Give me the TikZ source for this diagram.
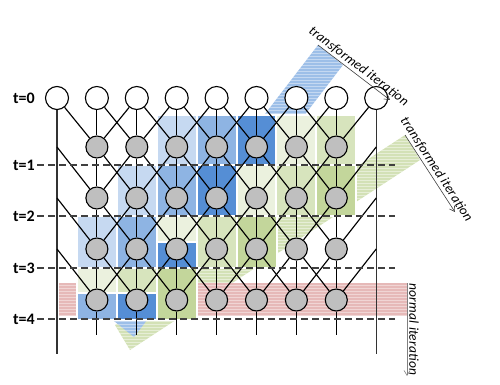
\documentclass[tikz,border=0pt]{standalone}
\usepackage{fontspec}
\setmainfont{Carlito}
\usetikzlibrary{arrows.meta}
\definecolor{lb}{HTML}{C6D9F1}
\definecolor{mb}{HTML}{8EB4E3}
\definecolor{db}{HTML}{558ED5}
\definecolor{lg}{HTML}{EBF1DE}
\definecolor{mg}{HTML}{D7E4BD}
\definecolor{dg}{HTML}{C3D69B}
\definecolor{pk}{HTML}{E6B9B8}
\definecolor{bandb}{HTML}{9DBFE8}
\definecolor{bandg}{HTML}{D3E1B6}
\definecolor{nodegray}{HTML}{BFBFBF}
\definecolor{dashgray}{HTML}{404040}
\pgfdeclarelayer{bands}
\pgfdeclarelayer{edges}
\pgfsetlayers{bands,edges,main}
\begin{document}
\begin{tikzpicture}[x=1pt,y=-1pt,
  wnode/.style={circle,draw=black,fill=white,line width=1.1pt,minimum size=23pt,inner sep=0pt},
  gnode/.style={circle,draw=black,fill=nodegray,line width=1.1pt,minimum size=22pt,inner sep=0pt},
  net/.style={black,line width=1.15pt},
  bline/.style={black!80,line width=1.4pt},
  dline/.style={dashgray,line width=1.4pt,dash pattern=on 7pt off 4pt},
  tile/.style={draw=white,line width=2pt},
  tlabel/.style={font=\fontsize{16}{18}\selectfont\bfseries,anchor=east,inner sep=1pt},
  itlabel/.style={font=\fontsize{13.5}{15}\selectfont\itshape\addfontfeatures{LetterSpace=1.5},sloped,above,inner sep=2pt},
  arr/.style={line width=0.6pt,-{Straight Barb[length=5pt,width=6pt]}},
]
\useasboundingbox (0,0) rectangle (500,385);
\def\cx#1{57+39.9*#1}
% ---------- nodes ----------
\foreach \c in {0,...,8} {
  \node[wnode] (n-\c-0) at ({\cx{\c}},98) {};
}
\foreach \r/\y in {1/147,2/198,3/249,4/300} {
  \coordinate (n-0-\r) at ({\cx{0}},\y);
  \coordinate (n-8-\r) at ({\cx{8}},\y);
  \foreach \c in {1,...,7} {
    \node[gnode] (n-\c-\r) at ({\cx{\c}},\y) {};
  }
}
\foreach \c in {1,...,7} { \coordinate (e-\c) at ({\cx{\c}},335); }
\coordinate (b-0) at ({\cx{0}},354);
\coordinate (b-8) at ({\cx{8}},354);
% ---------- bands and tiles ----------
\begin{pgfonlayer}{bands}
  % green band
  \begin{scope}
    \clip (405,135) -- (420,160) -- (130,350) -- (115,325) -- cycle;
    \fill[bandg] (0,0) rectangle (500,385);
    \foreach \yy in {0,3,...,384} \draw[white,opacity=0.45,line width=1pt] (0,\yy) -- (500,\yy);
  \end{scope}
  % blue band
  \begin{scope}
    \clip (318,45) -- (343,65) -- (134,337) -- (109,317) -- cycle;
    \fill[bandb] (0,0) rectangle (500,385);
    \foreach \yy in {0,3,...,384} \draw[white,opacity=0.4,line width=1pt] (0,\yy) -- (500,\yy);
  \end{scope}
  % pink band
  \begin{scope}
    \clip (59,283) rectangle (407,315);
    \fill[pk] (0,0) rectangle (500,385);
    \foreach \yy in {0,3,...,384} \draw[white,opacity=0.4,line width=1pt] (0,\yy) -- (500,\yy);
  \end{scope}
  % tiles
  \foreach \c/\ya/\yb/\col in {
      3/115/165/lb, 4/115/165/mb, 5/115/165/db, 6/115/165/lg, 7/115/165/mg,
      2/165/216/lb, 3/165/216/mb, 4/165/216/db, 5/165/216/lg, 6/165/216/mg, 7/165/216/dg,
      1/216/268/lb, 2/216/268/mb, 3/216/242/lg, 3/242/268/db, 4/216/268/mg, 5/216/268/dg,
      1/268/293/lg, 1/293/320/mb, 2/268/293/mg, 2/293/320/db, 3/268/320/dg} {
    \path[tile,fill=\col] ({\cx{\c}-20},\ya) rectangle ({\cx{\c}+20},\yb);
  }
\end{pgfonlayer}
% ---------- edges ----------
\begin{pgfonlayer}{edges}
  \draw[bline] (n-0-0) -- (b-0);
  \draw[bline] (n-8-0) -- (b-8);
  \foreach \r in {1,...,4} {
    \pgfmathtruncatemacro\rp{\r-1}
    \foreach \c in {1,...,7} {
      \pgfmathtruncatemacro\cl{\c-1}
      \pgfmathtruncatemacro\cr{\c+1}
      \draw[net] (n-\c-\rp) -- (n-\c-\r);
      \draw[net] (n-\cl-\rp) -- (n-\c-\r);
      \draw[net] (n-\cr-\rp) -- (n-\c-\r);
    }
  }
  \foreach \c in {1,...,7} { \draw[net] (n-\c-4) -- (e-\c); }
\end{pgfonlayer}
% ---------- time labels and dashed lines ----------
\node[tlabel] (t0) at (36,98) {t=0};
\foreach \i/\y in {1/165,2/216,3/268,4/319} {
  \node[tlabel] (t\i) at (36,\y) {t=\i};
  \coordinate (d\i a) at (37,\y);
  \coordinate (d\i b) at (395,\y);
  \draw[dline] (d\i a) -- (d\i b);
}
% ---------- iteration arrows ----------
\coordinate (a1s) at (318,45);
\coordinate (a1e) at (390,100);
\draw[arr,dashgray] (a1s) -- (a1e) node[itlabel,midway,text=black] (lab1) {transformed iteration};
\coordinate (a2s) at (405,135);
\coordinate (a2e) at (455,212);
\draw[arr,dashgray] (a2s) -- (a2e) node[itlabel,midway,text=black] (lab2) {transformed iteration};
\coordinate (a3s) at (407,283);
\coordinate (a3e) at (407,376);
\draw[arr,black!50] (a3s) -- (a3e) node[itlabel,midway,text=black] (lab3) {normal iteration};
\end{tikzpicture}
\end{document}
